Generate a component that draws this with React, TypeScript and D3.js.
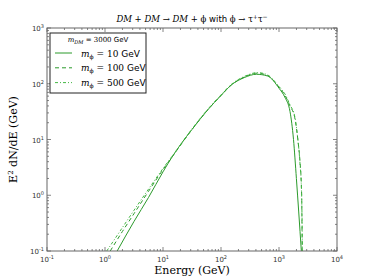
import React, { useRef, useEffect } from 'react';
import * as d3 from 'd3';

// log10(E / GeV) and log10(E^2 dN/dE / GeV)
const solidLogE = [0.21, 0.5, 0.75, 1.0, 1.165, 1.31, 1.5, 1.77, 2.0, 2.18, 2.4, 2.61, 2.8, 3.0, 3.1, 3.19, 3.25, 3.3, 3.34, 3.385];
const solidLogY = [-1, -0.47, -0.04, 0.42, 0.7, 0.92, 1.18, 1.53, 1.79, 1.98, 2.11, 2.17, 2.14, 1.92, 1.76, 1.5, 1.0, 0.3, -0.3, -1];

const dashedLogE = [0.09, 0.3, 0.5, 0.75, 1.0, 1.2, 1.5, 1.77, 2.0, 2.18, 2.4, 2.62, 2.8, 3.0, 3.1, 3.19, 3.27, 3.33, 3.36, 3.39, 3.4];
const dashedLogY = [-1, -0.65, -0.33, 0.07, 0.46, 0.75, 1.18, 1.53, 1.79, 1.98, 2.12, 2.19, 2.15, 1.94, 1.8, 1.6, 1.4, 0.95, 0.63, 0.04, -1];

const dotLogE = [0.03, 0.3, 0.5, 0.75, 1.0, 1.2, 1.5, 1.77, 2.0, 2.18, 2.4, 2.63, 2.8, 3.0, 3.1, 3.19, 3.27, 3.33, 3.36, 3.39, 3.405];
const dotLogY = [-1, -0.58, -0.27, 0.11, 0.48, 0.76, 1.19, 1.54, 1.8, 1.99, 2.13, 2.2, 2.16, 1.95, 1.82, 1.62, 1.42, 0.95, 0.6, 0.0, -1];

const xDecades = [-1, 0, 1, 2, 3, 4];
const yDecades = [-1, 0, 1, 2, 3];
const legendLabels = ['10', '100', '500'];

export default function App() {
  const svgRef = useRef<SVGSVGElement | null>(null);

  useEffect(() => {
    if (!svgRef.current) return;
    const svg = d3.select(svgRef.current);
    svg.selectAll('*').remove();

    const width = 374;
    const height = 280;
    const margin = { top: 28, right: 37, bottom: 29, left: 47 };
    const innerWidth = width - margin.left - margin.right;
    const innerHeight = height - margin.top - margin.bottom;

    const x = d3.scaleLog().domain([0.1, 1e4]).range([0, innerWidth]);
    const y = d3.scaleLog().domain([0.1, 1e3]).range([innerHeight, 0]);

    const g = svg.append('g').attr('transform', `translate(${margin.left},${margin.top})`);

    g.append('rect')
      .attr('width', innerWidth).attr('height', innerHeight)
      .attr('fill', '#fff');

    const clip = svg.append('defs').append('clipPath').attr('id', 'plotclip');
    clip.append('rect').attr('width', innerWidth).attr('height', innerHeight);

    // Curves
    const line = d3.line<[number, number]>()
      .x(d => x(Math.pow(10, d[0])))
      .y(d => y(Math.pow(10, d[1])))
      .curve(d3.curveMonotoneX);

    const series = [
      { le: solidLogE, ly: solidLogY, color: '#2b9a2b', dash: null },
      { le: dashedLogE, ly: dashedLogY, color: '#2b9a2b', dash: '4,3' },
      { le: dotLogE, ly: dotLogY, color: '#45b845', dash: '3,2,1,2' },
    ];

    const curves = g.append('g').attr('clip-path', 'url(#plotclip)');
    series.forEach(s => {
      const pts = s.le.map((v, i) => [v, s.ly[i]] as [number, number]);
      curves.append('path')
        .attr('d', line(pts))
        .attr('fill', 'none')
        .attr('stroke', s.color)
        .attr('stroke-width', 1)
        .attr('stroke-dasharray', s.dash);
    });

    // Frame
    const frameColor = '#666';
    g.append('rect')
      .attr('width', innerWidth).attr('height', innerHeight)
      .attr('fill', 'none').attr('stroke', frameColor).attr('stroke-width', 1);

    // Ticks (inside, all sides)
    const ticks = g.append('g').attr('stroke', frameColor).attr('stroke-width', 0.8);
    xDecades.forEach(d => {
      for (let m = 1; m <= 9; m++) {
        if (d === 4 && m > 1) break;
        const v = m * Math.pow(10, d);
        const px = x(v);
        const len = m === 1 ? 4 : 2;
        ticks.append('line').attr('x1', px).attr('x2', px).attr('y1', innerHeight).attr('y2', innerHeight - len);
        ticks.append('line').attr('x1', px).attr('x2', px).attr('y1', 0).attr('y2', len);
      }
    });
    yDecades.forEach(d => {
      for (let m = 1; m <= 9; m++) {
        if (d === 3 && m > 1) break;
        const v = m * Math.pow(10, d);
        const py = y(v);
        const len = m === 1 ? 4 : 2;
        ticks.append('line').attr('y1', py).attr('y2', py).attr('x1', 0).attr('x2', len);
        ticks.append('line').attr('y1', py).attr('y2', py).attr('x1', innerWidth).attr('x2', innerWidth - len);
      }
    });

    // Tick labels
    const tickFont = '"DejaVu Sans", sans-serif';
    xDecades.forEach(d => {
      const t = g.append('text')
        .attr('x', x(Math.pow(10, d)))
        .attr('y', innerHeight + 11)
        .attr('text-anchor', 'middle')
        .attr('font-family', tickFont)
        .attr('font-size', 7)
        .attr('fill', '#333');
      t.append('tspan').text('10');
      t.append('tspan').attr('dy', -3).attr('font-size', 5).text(String(d));
    });
    yDecades.forEach(d => {
      const t = g.append('text')
        .attr('x', -3)
        .attr('y', y(Math.pow(10, d)) + 3)
        .attr('text-anchor', 'end')
        .attr('font-family', tickFont)
        .attr('font-size', 7)
        .attr('fill', '#333');
      t.append('tspan').text('10');
      t.append('tspan').attr('dy', -3).attr('font-size', 5).text(String(d));
    });

    // Axis labels
    const serif = '"DejaVu Serif", serif';
    svg.append('text')
      .attr('x', margin.left + innerWidth / 2)
      .attr('y', 274)
      .attr('text-anchor', 'middle')
      .attr('font-family', serif)
      .attr('font-size', 11)
      .text('Energy (GeV)');

    const yl = svg.append('text')
      .attr('transform', `translate(17,${margin.top + innerHeight / 2}) rotate(-90)`)
      .attr('text-anchor', 'middle')
      .attr('font-family', serif)
      .attr('font-size', 11);
    yl.append('tspan').text('E');
    yl.append('tspan').attr('dy', -4).attr('font-size', 7).text('2');
    yl.append('tspan').attr('dy', 4).text(' dN/dE (GeV)');

    // Title
    const title = svg.append('text')
      .attr('x', margin.left + innerWidth / 2)
      .attr('y', 22)
      .attr('text-anchor', 'middle')
      .attr('font-size', 8.5)
      .attr('font-family', serif);
    title.append('tspan').attr('font-style', 'italic').text('DM');
    title.append('tspan').text(' + ');
    title.append('tspan').attr('font-style', 'italic').text('DM');
    title.append('tspan').text(' → ');
    title.append('tspan').attr('font-style', 'italic').text('DM');
    title.append('tspan').text(' + ϕ ');
    title.append('tspan').attr('font-family', tickFont).text('with');
    title.append('tspan').text(' ϕ → τ');
    title.append('tspan').attr('dy', -3).attr('font-size', 6).text('+');
    title.append('tspan').attr('dy', 3).text('τ');
    title.append('tspan').attr('dy', -3).attr('font-size', 6).text('−');

    // Legend
    const lg = svg.append('g').attr('transform', 'translate(50,33)');
    lg.append('rect')
      .attr('width', 96).attr('height', 60)
      .attr('fill', '#fff').attr('stroke', '#222').attr('stroke-width', 1);
    const lt = lg.append('text')
      .attr('x', 48).attr('y', 9)
      .attr('text-anchor', 'middle')
      .attr('font-size', 7)
      .attr('font-family', serif);
    lt.append('tspan').attr('font-style', 'italic').text('m');
    lt.append('tspan').attr('dy', 1.5).attr('font-size', 5).attr('font-style', 'italic').text('DM');
    lt.append('tspan').attr('dy', -1.5).text(' = 3000 ');
    lt.append('tspan').attr('font-family', tickFont).text('GeV');

    series.forEach((s, i) => {
      const ly = 20 + i * 14.8;
      lg.append('line')
        .attr('x1', 5).attr('x2', 22).attr('y1', ly).attr('y2', ly)
        .attr('stroke', s.color).attr('stroke-width', 1)
        .attr('stroke-dasharray', s.dash);
      const tx = lg.append('text')
        .attr('x', 31).attr('y', ly + 3.5)
        .attr('font-size', 9)
        .attr('font-family', serif);
      tx.append('tspan').attr('font-style', 'italic').text('m');
      tx.append('tspan').attr('dy', 2).attr('font-size', 6).text('ϕ');
      tx.append('tspan').attr('dy', -2).text(` = ${legendLabels[i]} `);
      tx.append('tspan').attr('font-family', tickFont).text('GeV');
    });
  }, []);

  return (
    <svg
      ref={svgRef}
      width={374}
      height={280}
      style={{ position: 'absolute', left: 0, top: 0, background: '#fff' }}
    />
  );
}
